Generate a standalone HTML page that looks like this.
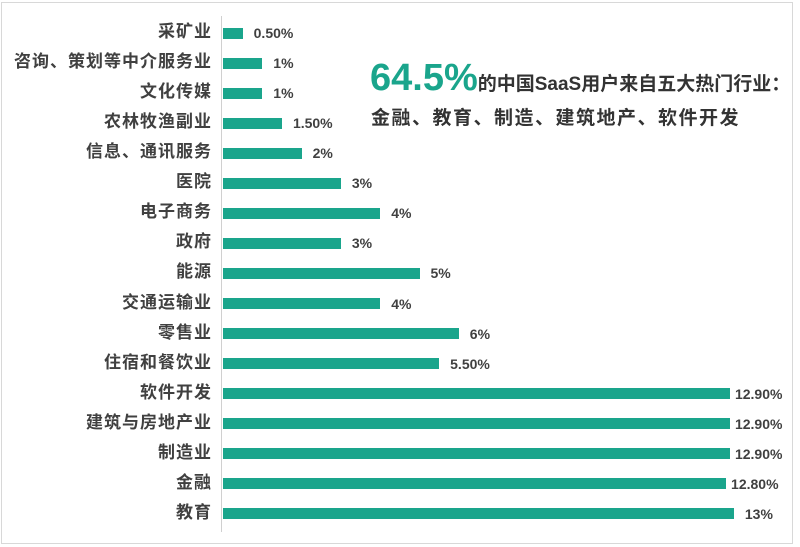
<!DOCTYPE html>
<html><head><meta charset="utf-8"><style>
body{margin:0;width:800px;height:547px;background:#fff;overflow:hidden;font-family:"Liberation Sans","Noto Sans CJK SC",sans-serif;}
.frame{position:absolute;left:1px;top:2px;width:790px;height:540px;border:1px solid #d8d8d8;}
.lab{position:absolute;right:588px;font-size:17px;font-weight:bold;color:#404040;letter-spacing:1px;white-space:nowrap;line-height:20px;}
.bar{position:absolute;left:223px;height:11px;background:#1aa58c;}
.val{position:absolute;font-size:14px;font-weight:bold;color:#404040;line-height:16px;white-space:nowrap;}
.axis{position:absolute;left:221px;top:16px;width:1px;height:516px;background:#d0d0d0;}
</style></head><body>
<div class="frame"></div>
<div class="axis"></div>
<div style="position:absolute;left:370px;top:57px;white-space:nowrap;color:#333;font-weight:bold;">
<span style="font-size:38px;color:#1aa58c;">64.5%</span><span style="font-size:19px;">的中国SaaS用户来自五大热门行业：</span></div>
<div style="position:absolute;left:371px;top:103px;white-space:nowrap;color:#333;font-weight:bold;font-size:19px;letter-spacing:1.5px;">金融、教育、制造、建筑地产、软件开发</div>
<div id="c"></div>
<script>
var d=[["采矿业",0.5,"0.50%"],["咨询、策划等中介服务业",1,"1%"],["文化传媒",1,"1%"],["农林牧渔副业",1.5,"1.50%"],["信息、通讯服务",2,"2%"],["医院",3,"3%"],["电子商务",4,"4%"],["政府",3,"3%"],["能源",5,"5%"],["交通运输业",4,"4%"],["零售业",6,"6%"],["住宿和餐饮业",5.5,"5.50%"],["软件开发",12.9,"12.90%"],["建筑与房地产业",12.9,"12.90%"],["制造业",12.9,"12.90%"],["金融",12.8,"12.80%"],["教育",13,"13%"]];
var h="";
d.forEach(function(r,i){var y=33+i*30.06;var w=r[1]*39.3;
h+='<div class="lab" style="top:'+(y-11)+'px">'+r[0]+'</div>';
h+='<div class="bar" style="top:'+(y-5.5)+'px;width:'+w+'px"></div>';
var off=(r[1]>=12&&r[2].length>3)?5:11;
h+='<div class="val" style="top:'+(y-8)+'px;left:'+(223+w+off)+'px">'+r[2]+'</div>';});
document.getElementById("c").innerHTML=h;
</script>
</body></html>
